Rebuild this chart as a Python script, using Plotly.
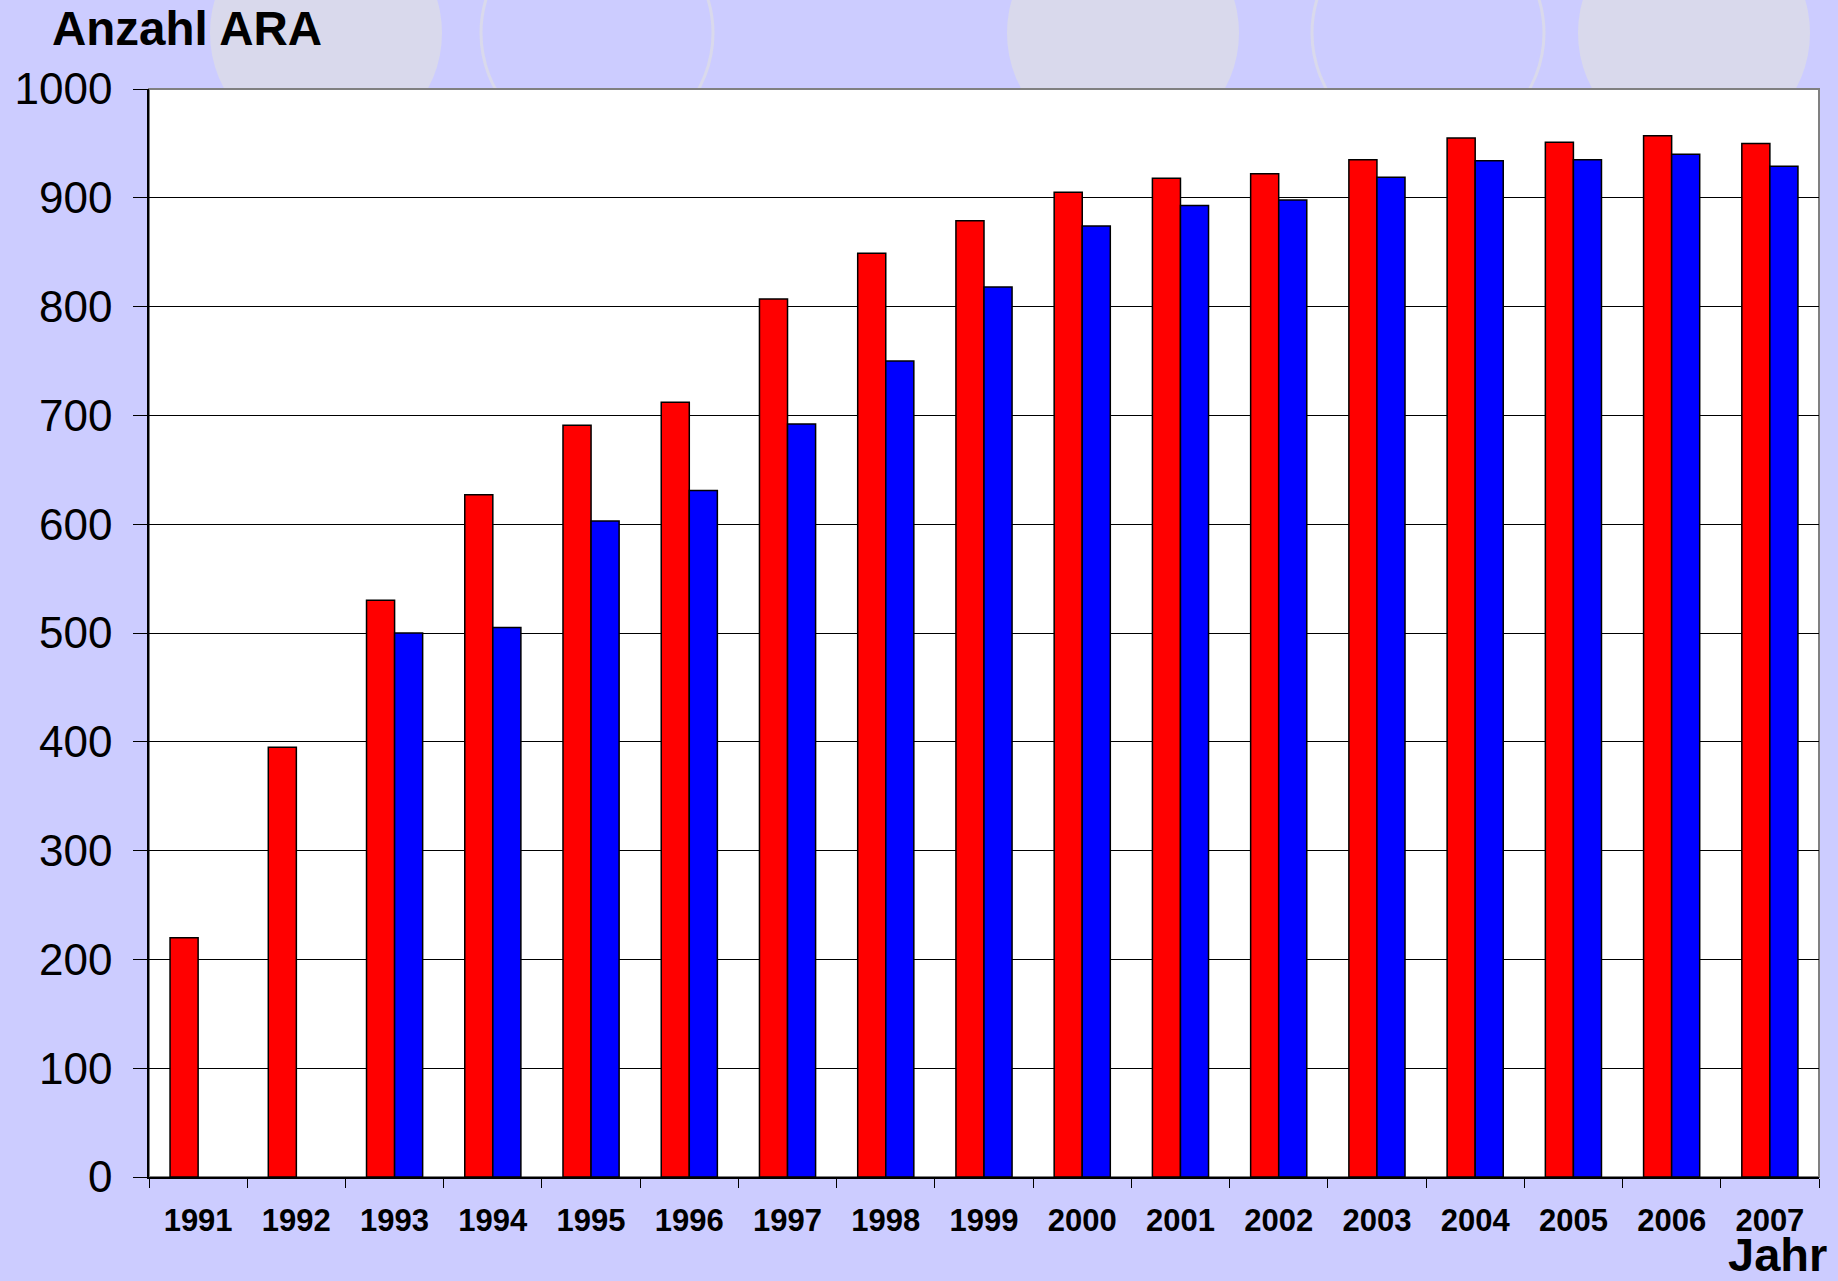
import plotly.graph_objects as go

W, H = 1838, 1281
L, R, T, B = 149, 19, 89, 104

jahre = [str(j) for j in range(1991, 2008)]
ara_rot = [220, 395, 530, 627, 691, 712, 807, 849, 879, 905, 918, 922, 935, 955, 951, 957, 950]
ara_blau = [None, None, 500, 505, 603, 631, 692, 750, 818, 874, 893, 898, 919, 934, 935, 940, 929]

y_ticks = list(range(0, 1001, 100))

# background decoration (pixel centers), circles behind the plot
kreise_gefuellt = [326, 1123, 1694]
kreise_ring = [597, 1428]
kreis_r = 116
kreis_y = 33

BG = "#CCCCFF"
DECO = "#D9D9EC"
FONT = "Liberation Sans, Arial, sans-serif"


def px_x(p):
    return (p - L) / (W - L - R)


def px_y(p):
    return (H - B - p) / (H - T - B)


fig = go.Figure()
fig.add_trace(go.Bar(x=jahre, y=ara_rot, marker=dict(color="#FF0000", line=dict(color="#000000", width=1.5)),
                     showlegend=False))
fig.add_trace(go.Bar(x=jahre, y=ara_blau, marker=dict(color="#0000FF", line=dict(color="#000000", width=1.5)),
                     showlegend=False))

shapes = []
for cx in kreise_gefuellt:
    shapes.append(dict(type="circle", xref="paper", yref="paper", layer="below",
                       x0=px_x(cx - kreis_r), x1=px_x(cx + kreis_r),
                       y0=px_y(kreis_y + kreis_r), y1=px_y(kreis_y - kreis_r),
                       fillcolor=DECO, line=dict(width=0)))
for cx in kreise_ring:
    shapes.append(dict(type="circle", xref="paper", yref="paper", layer="below",
                       x0=px_x(cx - kreis_r), x1=px_x(cx + kreis_r),
                       y0=px_y(kreis_y + kreis_r), y1=px_y(kreis_y - kreis_r),
                       line=dict(color=DECO, width=3)))
# white plot area with grey frame on top of the circles
shapes.append(dict(type="rect", xref="paper", yref="paper", layer="below",
                   x0=0, x1=1, y0=0, y1=1, fillcolor="white",
                   line=dict(color="#808080", width=2)))

fig.update_layout(
    width=W, height=H,
    margin=dict(l=L, r=R, t=T, b=B, pad=0),
    paper_bgcolor=BG,
    plot_bgcolor="white",
    barmode="group",
    bargap=0.4286,
    bargroupgap=0,
    font=dict(family=FONT, color="black"),
    shapes=shapes,
    annotations=[
        dict(text="<b>Anzahl ARA</b>", xref="paper", yref="paper", x=px_x(50), y=px_y(29),
             xanchor="left", yanchor="middle", showarrow=False, font=dict(size=47.5, family=FONT)),
        dict(text="<b>Jahr</b>", xref="paper", yref="paper", x=px_x(1828), y=px_y(1254),
             xanchor="right", yanchor="middle", showarrow=False, font=dict(size=47, family=FONT),
             borderpad=0),
    ],
)
fig.update_yaxes(
    range=[0, 1000], tickvals=y_ticks, showgrid=True, gridcolor="black", gridwidth=1,
    showline=True, linecolor="black", linewidth=1.5, ticks="outside", ticklen=14,
    tickcolor="black", tickfont=dict(size=44, family=FONT), ticklabelstandoff=12,
    zeroline=False,
)
fig.update_xaxes(
    type="category", tickson="boundaries", ticks="outside", ticklen=9, tickcolor="black",
    showline=True, linecolor="black", linewidth=1.5, showgrid=False,
    tickfont=dict(size=31, family=FONT, weight="bold"), ticklabelstandoff=15,
)

fig.write_html("out.html", config={"displayModeBar": False},
               post_script="document.body.style.margin='0';")
